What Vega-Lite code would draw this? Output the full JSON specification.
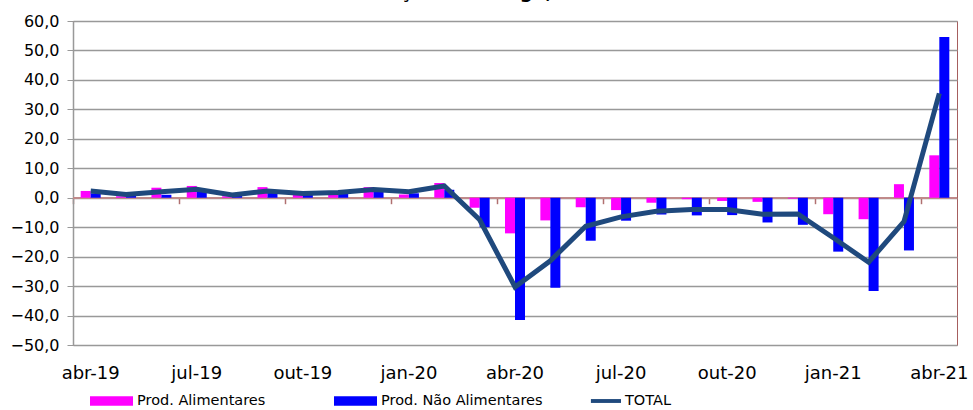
{
  "$schema": "https://vega.github.io/schema/vega-lite/v6.json",
  "width": 884,
  "height": 324,
  "autosize": {"type": "none"},
  "padding": {"left": 73, "top": 21, "right": 16, "bottom": 65},
  "background": "white",
  "config": {
    "view": {"stroke": "#A65E5E", "strokeWidth": 1},
    "font": "DejaVu Sans"
  },
  "title": {
    "text": "Variação homóloga, %",
    "fontSize": 18.5,
    "fontWeight": "bold",
    "font": "DejaVu Sans",
    "color": "black",
    "frame": "group",
    "anchor": "middle",
    "dx": -53,
    "dy": 11,
    "baseline": "alphabetic",
    "offset": 8
  },
  "data": {
    "values": [
      {"m": "abr-19", "s": "Prod. Alimentares", "v": 2.3},
      {"m": "abr-19", "s": "Prod. Não Alimentares", "v": 1.5},
      {"m": "abr-19", "s": "TOTAL", "v": 2.3},
      {"m": "mai-19", "s": "Prod. Alimentares", "v": 0.5},
      {"m": "mai-19", "s": "Prod. Não Alimentares", "v": 1.0},
      {"m": "mai-19", "s": "TOTAL", "v": 1.1},
      {"m": "jun-19", "s": "Prod. Alimentares", "v": 3.4},
      {"m": "jun-19", "s": "Prod. Não Alimentares", "v": 1.0},
      {"m": "jun-19", "s": "TOTAL", "v": 2.0},
      {"m": "jul-19", "s": "Prod. Alimentares", "v": 4.0},
      {"m": "jul-19", "s": "Prod. Não Alimentares", "v": 2.0},
      {"m": "jul-19", "s": "TOTAL", "v": 2.9},
      {"m": "ago-19", "s": "Prod. Alimentares", "v": 0.5},
      {"m": "ago-19", "s": "Prod. Não Alimentares", "v": 0.7},
      {"m": "ago-19", "s": "TOTAL", "v": 0.9},
      {"m": "set-19", "s": "Prod. Alimentares", "v": 3.6},
      {"m": "set-19", "s": "Prod. Não Alimentares", "v": 1.8},
      {"m": "set-19", "s": "TOTAL", "v": 2.3},
      {"m": "out-19", "s": "Prod. Alimentares", "v": 1.1},
      {"m": "out-19", "s": "Prod. Não Alimentares", "v": 1.4},
      {"m": "out-19", "s": "TOTAL", "v": 1.4},
      {"m": "nov-19", "s": "Prod. Alimentares", "v": 0.9},
      {"m": "nov-19", "s": "Prod. Não Alimentares", "v": 1.6},
      {"m": "nov-19", "s": "TOTAL", "v": 1.8},
      {"m": "dez-19", "s": "Prod. Alimentares", "v": 3.6},
      {"m": "dez-19", "s": "Prod. Não Alimentares", "v": 2.2},
      {"m": "dez-19", "s": "TOTAL", "v": 2.8},
      {"m": "jan-20", "s": "Prod. Alimentares", "v": 1.1},
      {"m": "jan-20", "s": "Prod. Não Alimentares", "v": 1.5},
      {"m": "jan-20", "s": "TOTAL", "v": 2.0},
      {"m": "fev-20", "s": "Prod. Alimentares", "v": 5.0},
      {"m": "fev-20", "s": "Prod. Não Alimentares", "v": 2.7},
      {"m": "fev-20", "s": "TOTAL", "v": 4.0},
      {"m": "mar-20", "s": "Prod. Alimentares", "v": -3.4},
      {"m": "mar-20", "s": "Prod. Não Alimentares", "v": -10.0},
      {"m": "mar-20", "s": "TOTAL", "v": -7.5},
      {"m": "abr-20", "s": "Prod. Alimentares", "v": -12.1},
      {"m": "abr-20", "s": "Prod. Não Alimentares", "v": -41.5},
      {"m": "abr-20", "s": "TOTAL", "v": -30.3},
      {"m": "mai-20", "s": "Prod. Alimentares", "v": -7.7},
      {"m": "mai-20", "s": "Prod. Não Alimentares", "v": -30.6},
      {"m": "mai-20", "s": "TOTAL", "v": -21.4},
      {"m": "jun-20", "s": "Prod. Alimentares", "v": -3.2},
      {"m": "jun-20", "s": "Prod. Não Alimentares", "v": -14.6},
      {"m": "jun-20", "s": "TOTAL", "v": -9.7},
      {"m": "jul-20", "s": "Prod. Alimentares", "v": -4.2},
      {"m": "jul-20", "s": "Prod. Não Alimentares", "v": -7.8},
      {"m": "jul-20", "s": "TOTAL", "v": -6.5},
      {"m": "ago-20", "s": "Prod. Alimentares", "v": -1.7},
      {"m": "ago-20", "s": "Prod. Não Alimentares", "v": -5.7},
      {"m": "ago-20", "s": "TOTAL", "v": -4.6},
      {"m": "set-20", "s": "Prod. Alimentares", "v": -0.5},
      {"m": "set-20", "s": "Prod. Não Alimentares", "v": -6.0},
      {"m": "set-20", "s": "TOTAL", "v": -4.0},
      {"m": "out-20", "s": "Prod. Alimentares", "v": -1.1},
      {"m": "out-20", "s": "Prod. Não Alimentares", "v": -5.9},
      {"m": "out-20", "s": "TOTAL", "v": -4.0},
      {"m": "nov-20", "s": "Prod. Alimentares", "v": -1.4},
      {"m": "nov-20", "s": "Prod. Não Alimentares", "v": -8.4},
      {"m": "nov-20", "s": "TOTAL", "v": -5.6},
      {"m": "dez-20", "s": "Prod. Alimentares", "v": -0.3},
      {"m": "dez-20", "s": "Prod. Não Alimentares", "v": -9.2},
      {"m": "dez-20", "s": "TOTAL", "v": -5.5},
      {"m": "jan-21", "s": "Prod. Alimentares", "v": -5.6},
      {"m": "jan-21", "s": "Prod. Não Alimentares", "v": -18.3},
      {"m": "jan-21", "s": "TOTAL", "v": -13.6},
      {"m": "fev-21", "s": "Prod. Alimentares", "v": -7.3},
      {"m": "fev-21", "s": "Prod. Não Alimentares", "v": -31.7},
      {"m": "fev-21", "s": "TOTAL", "v": -21.9},
      {"m": "mar-21", "s": "Prod. Alimentares", "v": 4.6},
      {"m": "mar-21", "s": "Prod. Não Alimentares", "v": -17.9},
      {"m": "mar-21", "s": "TOTAL", "v": -8.1},
      {"m": "abr-21", "s": "Prod. Alimentares", "v": 14.4},
      {"m": "abr-21", "s": "Prod. Não Alimentares", "v": 54.6},
      {"m": "abr-21", "s": "TOTAL", "v": 35.4}
    ]
  },
  "resolve": {"axis": {"x": "independent"}},
  "layer": [
    {
      "mark": {"type": "rule", "color": "#C08A8A", "strokeWidth": 1.5},
      "encoding": {
        "y": {
          "datum": 0,
          "type": "quantitative",
          "scale": {"domain": [-50, 60], "nice": false, "zero": false},
          "axis": {
            "title": null,
            "values": [-50, -40, -30, -20, -10, 0, 10, 20, 30, 40, 50, 60],
            "labelExpr": "replace(format(datum.value, '.1f'), '.', ',')",
            "labelOverlap": false,
            "labelFontSize": 16,
            "labelFont": "DejaVu Sans",
            "labelColor": "black",
            "labelPadding": 8,
            "tickSize": 6,
            "tickColor": "#999999",
            "domainColor": "#999999",
            "domainWidth": 1.5,
            "gridColor": "#999999",
            "gridWidth": 1.5,
            "grid": true
          }
        }
      }
    },
    {
      "transform": [{"filter": "datum.s !== 'TOTAL'"}],
      "mark": {"type": "bar"},
      "encoding": {
        "x": {
          "field": "m",
          "type": "ordinal",
          "sort": null,
          "scale": {"paddingInner": 0, "paddingOuter": 0},
          "axis": {
            "title": null,
            "orient": "bottom",
            "values": ["abr-19", "jul-19", "out-19", "jan-20", "abr-20", "jul-20", "out-20", "jan-21", "abr-21"],
            "ticks": false,
            "domain": false,
            "grid": false,
            "labelAngle": 0,
            "labelFontSize": 18,
            "labelFont": "DejaVu Sans",
            "labelColor": "black",
            "labelPadding": 19
          }
        },
        "xOffset": {
          "field": "s",
          "type": "nominal",
          "sort": null,
          "scale": {"paddingInner": 0, "paddingOuter": 0.768}
        },
        "y": {
          "field": "v",
          "type": "quantitative",
          "scale": {"domain": [-50, 60], "nice": false, "zero": false},
          "axis": {
            "title": null,
            "values": [-50, -40, -30, -20, -10, 0, 10, 20, 30, 40, 50, 60],
            "labelExpr": "replace(format(datum.value, '.1f'), '.', ',')",
            "labelOverlap": false,
            "labelFontSize": 16,
            "labelFont": "DejaVu Sans",
            "labelColor": "black",
            "labelPadding": 8,
            "tickSize": 6,
            "tickColor": "#999999",
            "domainColor": "#999999",
            "domainWidth": 1.5,
            "gridColor": "#999999",
            "gridWidth": 1.5,
            "grid": true
          }
        },
        "color": {
          "field": "s",
          "type": "nominal",
          "scale": {
            "domain": ["Prod. Alimentares", "Prod. Não Alimentares", "TOTAL"],
            "range": ["#FF00FF", "#0000FF", "#1F497D"]
          },
          "legend": {
            "title": null,
            "orient": "none",
            "legendX": 17,
            "legendY": 358.5,
            "direction": "horizontal",
            "gridAlign": "all",
            "columnPadding": 35,
            "padding": 0,
            "symbolSize": 1849,
            "labelFontSize": 14.5,
            "labelFont": "DejaVu Sans",
            "labelColor": "black",
            "labelOffset": 4,
            "labelLimit": 400,
            "encode": {
              "symbols": {
                "update": {
                  "shape": {"signal": "datum.value === 'TOTAL' ? 'M-0.4,-0.09H1V0.09H-0.4Z' : 'M-1,-0.22H1V0.22H-1Z'"},
                  "strokeWidth": {"value": 0},
                  "opacity": {"value": 1}
                }
              }
            }
          }
        }
      }
    },
    {
      "transform": [{"filter": "datum.s === 'TOTAL'"}],
      "mark": {"type": "line", "strokeWidth": 5, "stroke": "#1F497D"},
      "encoding": {
        "x": {
          "field": "m",
          "type": "ordinal",
          "sort": null,
          "axis": {
            "title": null,
            "orient": "bottom",
            "values": ["abr-19", "jul-19", "out-19", "jan-20", "abr-20", "jul-20", "out-20", "jan-21", "abr-21"],
            "labels": false,
            "domain": false,
            "grid": false,
            "ticks": true,
            "tickSize": 6,
            "tickWidth": 1.5,
            "tickColor": "#B07070",
            "bandPosition": 0,
            "offset": -147.3
          }
        },
        "y": {
          "field": "v",
          "type": "quantitative",
          "scale": {"domain": [-50, 60], "nice": false, "zero": false},
          "axis": {
            "title": null,
            "values": [-50, -40, -30, -20, -10, 0, 10, 20, 30, 40, 50, 60],
            "labelExpr": "replace(format(datum.value, '.1f'), '.', ',')",
            "labelOverlap": false,
            "labelFontSize": 16,
            "labelFont": "DejaVu Sans",
            "labelColor": "black",
            "labelPadding": 8,
            "tickSize": 6,
            "tickColor": "#999999",
            "domainColor": "#999999",
            "domainWidth": 1.5,
            "gridColor": "#999999",
            "gridWidth": 1.5,
            "grid": true
          }
        }
      }
    }
  ]
}
